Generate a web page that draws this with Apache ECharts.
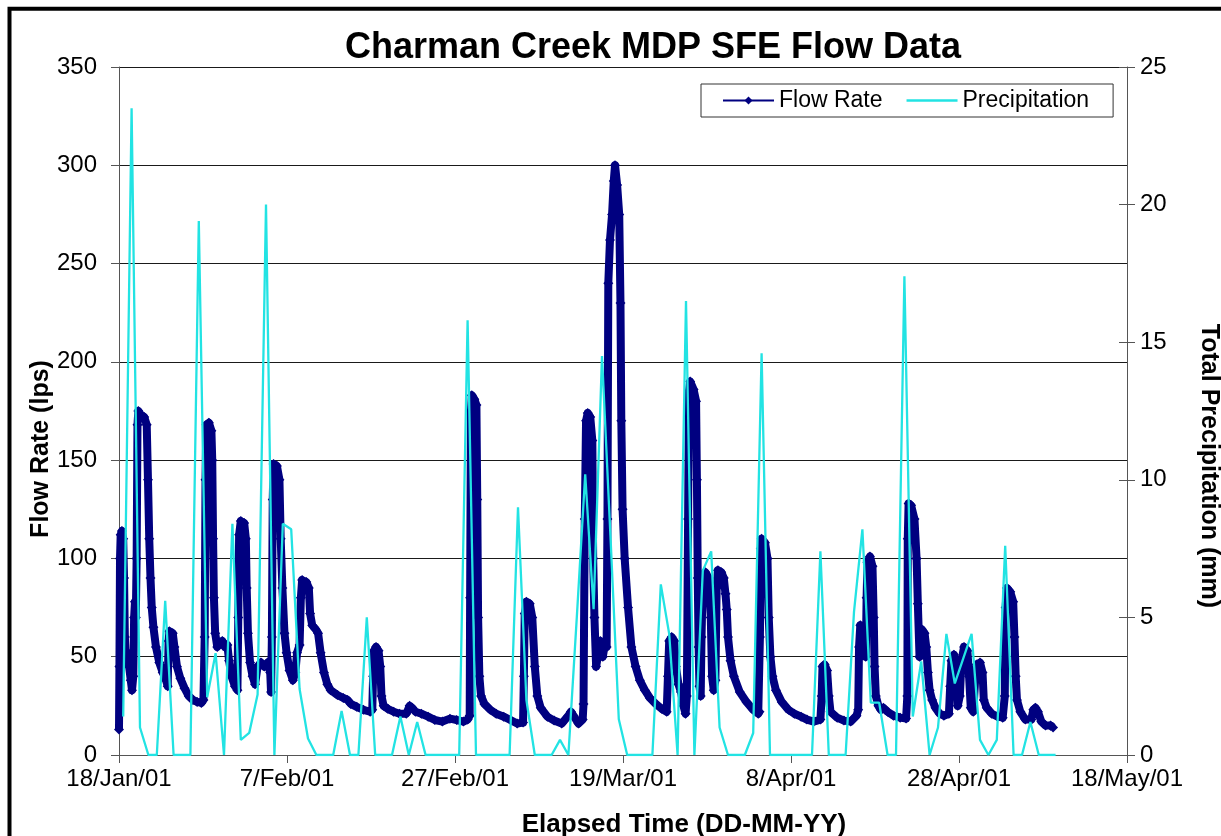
<!DOCTYPE html>
<html>
<head>
<meta charset="utf-8">
<title>Charman Creek MDP SFE Flow Data</title>
<script src="https://cdn.jsdelivr.net/npm/echarts@6/dist/echarts.min.js"></script>
<style>
  html, body { margin: 0; padding: 0; background: #fff; }
  #chart { width: 1221px; height: 836px; }
</style>
</head>
<body>
<div id="chart"></div>
<script>
// Elapsed time is measured in days from 18 Jan 2001 00:00.
const xTickLabels = ['18/Jan/01', '7/Feb/01', '27/Feb/01', '19/Mar/01', '8/Apr/01', '28/Apr/01', '18/May/01'];

// Stream flow record: [elapsed days, flow rate in lps]
const flowRate = [
  [0.00,13],[0.05,45],[0.12,100],[0.2,112],[0.35,114],[0.5,110],[0.6,90],[0.7,60],[0.8,50],[1.0,52],
  [1.2,45],[1.4,38],[1.55,33],[1.7,40],[1.8,70],[1.9,78],[2.0,70],[2.1,100],[2.2,168],[2.3,175],
  [2.6,173],[3.0,172],[3.3,168],[3.45,140],[3.6,110],[3.75,90],[3.9,75],[4.1,65],[4.4,55],[4.8,47],
  [5.2,42],[5.6,38],[5.8,35],[5.9,58],[6.0,63],[6.4,62],[6.6,55],[6.9,45],[7.3,39],[7.8,34],
  [8.3,30],[8.8,28],[9.3,27],[9.8,26.5],[10.05,28],[10.2,60],[10.3,140],[10.4,168],[10.7,169],[11.0,165],
  [11.1,150],[11.2,110],[11.3,80],[11.45,62],[11.7,55],[12.0,57],[12.3,58],[12.6,55],[12.9,56],[13.1,48],
  [13.4,40],[13.8,35],[14.1,33],[14.2,70],[14.3,112],[14.5,119],[14.9,118],[15.1,110],[15.2,85],[15.35,62],
  [15.6,47],[15.9,40],[16.2,36],[16.5,45],[16.9,47],[17.3,45],[17.7,47],[18.0,42],[18.1,32],[18.2,60],
  [18.3,130],[18.4,148],[18.8,147],[19.1,140],[19.25,110],[19.45,85],[19.7,62],[19.95,52],[20.3,43],[20.7,38],
  [21.0,42],[21.2,52],[21.5,56],[21.65,80],[21.8,89],[22.3,88],[22.6,85],[22.75,72],[23.0,66],[23.4,64],
  [23.7,62],[24.0,52],[24.4,42],[24.8,36],[25.2,33],[26.0,30.5],[26.7,29],[27.2,28],[27.6,26],[28.3,24.5],
  [29.1,23],[29.9,22],[30.15,23],[30.25,40],[30.35,53],[30.6,55],[30.9,53],[31.1,45],[31.25,30],[31.5,25],
  [32.0,23.5],[32.7,22],[33.4,21],[34.2,21],[34.6,25],[34.9,24],[35.3,22],[36.0,21],[36.8,19.5],[37.6,17.8],
  [38.5,17],[39.4,18.5],[40.2,17.8],[41.0,17],[41.5,18],[41.75,20],[41.8,80],[41.9,175],[42.0,183],[42.3,181],
  [42.55,178],[42.65,130],[42.75,70],[42.9,40],[43.1,30],[43.5,26],[44.2,23],[44.9,21],[45.8,19.5],[46.6,17.8],
  [47.4,16],[48.1,16.5],[48.2,40],[48.3,72],[48.5,78],[48.9,77],[49.2,70],[49.5,45],[49.8,30],[50.2,24],
  [51.0,19.5],[51.8,17.5],[52.7,16],[53.5,20],[53.8,22],[54.1,20],[54.7,16],[55.2,18],[55.3,26],[55.45,120],
  [55.6,170],[55.8,174],[56.1,172],[56.35,160],[56.45,100],[56.6,70],[56.8,45],[57.0,50],[57.3,58],[57.6,50],
  [57.9,58],[58.05,55],[58.15,120],[58.25,240],[58.45,262],[58.7,275],[58.9,292],[59.05,300],[59.3,290],[59.55,275],
  [59.7,230],[59.8,170],[59.95,125],[60.2,100],[60.6,75],[61.0,55],[61.5,45],[62.0,38],[62.6,33],[63.2,29],
  [63.9,26],[64.6,23.5],[65.2,22],[65.35,40],[65.5,58],[65.8,60],[66.1,58],[66.3,45],[66.6,36],[66.9,32],
  [67.2,25],[67.45,21],[67.6,30],[67.75,120],[67.85,185],[68.0,190],[68.4,186],[68.7,180],[68.8,140],[68.9,90],
  [69.0,55],[69.1,35],[69.25,30],[69.35,60],[69.5,90],[69.8,93],[70.2,90],[70.45,70],[70.6,40],[70.8,33],
  [71.0,38],[71.15,85],[71.3,94],[71.7,93],[72.0,90],[72.2,82],[72.35,74],[72.5,60],[72.8,48],[73.2,40],
  [73.9,32],[74.7,27],[75.5,23],[76.1,21],[76.25,22],[76.3,60],[76.4,105],[76.5,110],[76.9,108],[77.2,100],
  [77.35,70],[77.55,50],[77.8,40],[78.2,33],[78.9,27],[79.7,23],[80.4,21],[81.2,19.5],[81.9,18],[82.7,17],
  [83.5,18],[83.65,30],[83.75,45],[84.0,46],[84.3,43],[84.5,30],[84.7,22],[85.5,19],[86.3,17.5],[87.1,17],
  [87.8,20],[88.0,23],[88.1,55],[88.25,66],[88.6,64],[88.75,55],[88.9,50],[89.0,80],[89.1,98],[89.4,101],
  [89.7,96],[89.85,70],[89.95,45],[90.1,30],[90.4,25],[90.7,23],[91.0,24],[91.5,22],[92.2,20],[93.0,19],
  [93.7,18.6],[93.85,30],[93.9,110],[94.0,128],[94.3,127],[94.7,120],[94.95,100],[95.1,77],[95.3,50],[95.4,60],
  [95.55,64],[95.9,62],[96.1,55],[96.3,42],[96.5,33],[96.8,28],[97.2,24],[97.7,21],[98.2,20],[98.8,21],
  [98.95,35],[99.1,48],[99.4,51],[99.7,45],[99.85,25],[100.1,30],[100.3,48],[100.6,55],[101.0,53],[101.2,40],
  [101.4,24],[101.7,22],[101.95,40],[102.1,46],[102.5,47],[102.8,42],[102.95,28],[103.3,24],[103.9,21],[104.6,19.5],
  [105.2,19],[105.45,30],[105.55,75],[105.7,85],[106.1,83],[106.45,78],[106.6,60],[106.75,40],[106.9,28],[107.3,22],
  [107.9,18],[108.6,18],[108.85,23],[109.1,24],[109.4,22],[109.8,17],[110.3,15],[110.9,15],[111.2,14]
];

// Daily precipitation totals (mm), one per day starting 18 Jan 2001
const precipitation = [
  1.4, 23.5, 1.0, 0, 0, 5.6, 0, 0, 0, 19.4,
  2.1, 3.7, 0, 8.4, 0.55, 0.8, 2.2, 20.0, 0, 8.4,
  8.2, 2.4, 0.6, 0, 0, 0, 1.6, 0, 0, 5.0,
  0, 0, 0, 1.4, 0, 1.2, 0, 0, 0, 0,
  0, 15.8, 0, 0, 0, 0, 0, 9.0, 2.0, 0,
  0, 0, 0.55, 0, 5.0, 10.2, 5.3, 14.5, 8.0, 1.3,
  0, 0, 0, 0, 6.2, 4.4, 0, 16.5, 0, 6.7,
  7.4, 1.0, 0, 0, 0, 0.8, 14.6, 0, 0, 0,
  0, 0, 0, 7.4, 0, 0, 0, 5.2, 8.2, 1.9,
  1.9, 0, 0, 17.4, 1.4, 3.4, 0, 1.0, 4.4, 2.6,
  3.5, 4.4, 0.55, 0, 0.55, 7.6, 0, 0, 1.2, 0,
  0, 0
];

// Each daily total is plotted at midday of its day.
const precipitationPoints = precipitation.map((v, i) => [i + 0.5, v]);

const FONT = '"Liberation Sans", Arial, sans-serif';
const FLOW_COLOR = '#000080';
const RAIN_COLOR = '#22e3e3';
const AXIS_COLOR = '#555';

const chart = echarts.init(document.getElementById('chart'), null, { renderer: 'canvas' });

chart.setOption({
  animation: false,
  backgroundColor: '#ffffff',
  grid: { left: 119, right: 94, top: 67, bottom: 81 },
  legend: {
    left: 701,
    top: 84,
    padding: [5, 24, 5, 21],
    itemGap: 24,
    itemWidth: 51,
    itemHeight: 10,
    borderColor: '#333',
    borderWidth: 1,
    backgroundColor: '#fff',
    textStyle: { fontFamily: FONT, fontSize: 23, color: '#000' },
    data: [
      { name: 'Flow Rate', lineStyle: { width: 2 } },
      // plain line swatch, no marker
      { name: 'Precipitation', icon: 'path://M0,0 L52,0 L52,2.6 L0,2.6 Z' }
    ]
  },
  xAxis: {
    type: 'value',
    min: 0,
    max: 120,
    interval: 20,
    axisLine: { show: true, onZero: false, lineStyle: { color: AXIS_COLOR, width: 1 } },
    axisTick: { show: true, length: 8, lineStyle: { color: AXIS_COLOR } },
    axisLabel: {
      margin: 12,
      fontFamily: FONT,
      fontSize: 24,
      color: '#000',
      formatter: v => xTickLabels[Math.round(v / 20)]
    },
    splitLine: { show: false }
  },
  yAxis: [
    {
      type: 'value',
      min: 0,
      max: 350,
      interval: 50,
      position: 'left',
      axisLine: { show: true, lineStyle: { color: AXIS_COLOR, width: 1 } },
      axisTick: { show: true, length: 8, lineStyle: { color: AXIS_COLOR } },
      axisLabel: { margin: 22, fontFamily: FONT, fontSize: 24, color: '#000' },
      splitLine: { show: true, lineStyle: { color: '#1a1a1a', width: 1 } }
    },
    {
      type: 'value',
      min: 0,
      max: 25,
      interval: 5,
      position: 'right',
      axisLine: { show: true, lineStyle: { color: AXIS_COLOR, width: 1 } },
      axisTick: { show: true, length: 8, lineStyle: { color: AXIS_COLOR } },
      axisLabel: { margin: 13, fontFamily: FONT, fontSize: 24, color: '#000' },
      splitLine: { show: false }
    },
    {
      // inner half of the crossing ticks on the precipitation axis
      type: 'value',
      min: 0,
      max: 25,
      interval: 5,
      position: 'right',
      axisLine: { show: false },
      axisTick: { show: true, inside: true, length: 8, lineStyle: { color: AXIS_COLOR } },
      axisLabel: { show: false },
      splitLine: { show: false }
    }
  ],
  series: [
    {
      name: 'Flow Rate',
      type: 'line',
      yAxisIndex: 0,
      data: flowRate,
      symbol: 'diamond',
      symbolSize: 10,
      showSymbol: true,
      showAllSymbol: true,
      itemStyle: { color: FLOW_COLOR },
      lineStyle: { color: FLOW_COLOR, width: 8, join: 'round' },
      z: 2
    },
    {
      name: 'Precipitation',
      type: 'line',
      yAxisIndex: 1,
      data: precipitationPoints,
      symbol: 'none',
      itemStyle: { color: RAIN_COLOR },
      lineStyle: { color: RAIN_COLOR, width: 2.3 },
      z: 3
    }
  ],
  graphic: [
    {
      type: 'rect',
      shape: { x: 9.5, y: 8.7, width: 1260, height: 880 },
      style: { fill: 'none', stroke: '#000', lineWidth: 4 },
      silent: true
    },
    {
      type: 'text',
      x: 653,
      y: 48,
      style: {
        text: 'Charman Creek MDP SFE Flow Data',
        fontFamily: FONT, fontSize: 36, fontWeight: 'bold', fill: '#000',
        align: 'center', verticalAlign: 'middle'
      }
    },
    {
      type: 'text',
      x: 41,
      y: 449,
      rotation: Math.PI / 2,
      style: {
        text: 'Flow Rate (lps)',
        fontFamily: FONT, fontSize: 25, fontWeight: 'bold', fill: '#000',
        align: 'center', verticalAlign: 'middle'
      }
    },
    {
      type: 'text',
      x: 1209,
      y: 466,
      rotation: -Math.PI / 2,
      style: {
        text: 'Total Precipitation (mm)',
        fontFamily: FONT, fontSize: 25, fontWeight: 'bold', fill: '#000',
        align: 'center', verticalAlign: 'middle'
      }
    },
    {
      type: 'text',
      x: 684,
      y: 825,
      style: {
        text: 'Elapsed Time (DD-MM-YY)',
        fontFamily: FONT, fontSize: 26, fontWeight: 'bold', fill: '#000',
        align: 'center', verticalAlign: 'middle'
      }
    }
  ]
});
</script>
</body>
</html>
